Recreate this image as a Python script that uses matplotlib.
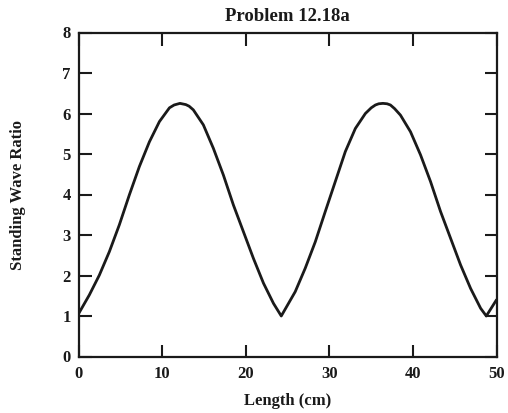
import matplotlib
matplotlib.use("Agg")
import matplotlib.pyplot as plt

# Values
length_cm = [0, 1.25, 2.45, 3.65, 4.84, 6.04, 7.24, 8.44, 9.64, 10.84, 11.4,
             12.1, 12.8, 13.2, 13.7, 14.9, 16.1, 17.3, 18.5, 19.7, 20.9,
             22.1, 23.3, 24.23, 25.9, 27.1, 28.3, 29.5, 30.7, 31.9, 33.1,
             34.3, 35.0, 35.5, 35.9, 36.4, 36.9, 37.3, 37.8, 38.5, 39.7,
             40.9, 42.1, 43.3, 44.5, 45.7, 46.9, 48.1, 48.78, 50]
swr = [1.07, 1.52, 2.01, 2.59, 3.25, 3.99, 4.69, 5.30, 5.80, 6.14, 6.21,
       6.25, 6.22, 6.18, 6.09, 5.72, 5.14, 4.48, 3.74, 3.08, 2.42,
       1.81, 1.31, 1.0, 1.60, 2.18, 2.83, 3.58, 4.32, 5.06, 5.63,
       6.0, 6.14, 6.21, 6.24, 6.25, 6.24, 6.21, 6.12, 5.96, 5.55,
       4.98, 4.32, 3.58, 2.92, 2.26, 1.68, 1.19, 1.0, 1.40]
x_ticks = [0, 10, 20, 30, 40, 50]
y_ticks = [0, 1, 2, 3, 4, 5, 6, 7, 8]

title = "Problem 12.18a"
x_label = "Length (cm)"
y_label = "Standing Wave Ratio"

plt.rcParams['font.family'] = ['Liberation Serif', 'DejaVu Serif']

fig = plt.figure(figsize=(5.08, 4.13), dpi=100)
ax = fig.add_axes([78.9 / 508, (413 - 356.5) / 413,
                   (496.5 - 78.9) / 508, (356.5 - 32.5) / 413])

ax.plot(length_cm, swr, color='#1a1a1a', linewidth=2.0,
        solid_joinstyle='round', solid_capstyle='round')

ax.set_xlim(0, 50)
ax.set_ylim(0, 8)
ax.set_xticks(x_ticks)
ax.set_yticks(y_ticks)

for s in ax.spines.values():
    s.set_linewidth(1.6)
    s.set_color('#1a1a1a')

ax.tick_params(axis='both', which='major', direction='in', length=9, width=1.5,
               top=True, right=True, labelsize=12, colors='#1a1a1a')
ax.tick_params(axis='y', pad=6)
ax.tick_params(axis='x', pad=7)
for lab in ax.get_xticklabels() + ax.get_yticklabels():
    lab.set_fontweight('bold')

ax.set_title(title, fontsize=13.5, fontweight='bold', color='#1a1a1a', pad=8)
ax.set_xlabel(x_label, fontsize=12, fontweight='bold', color='#1a1a1a', labelpad=8)
ax.set_ylabel(y_label, fontsize=12, fontweight='bold', color='#1a1a1a', labelpad=26)

fig.savefig("out.png", dpi=100)
